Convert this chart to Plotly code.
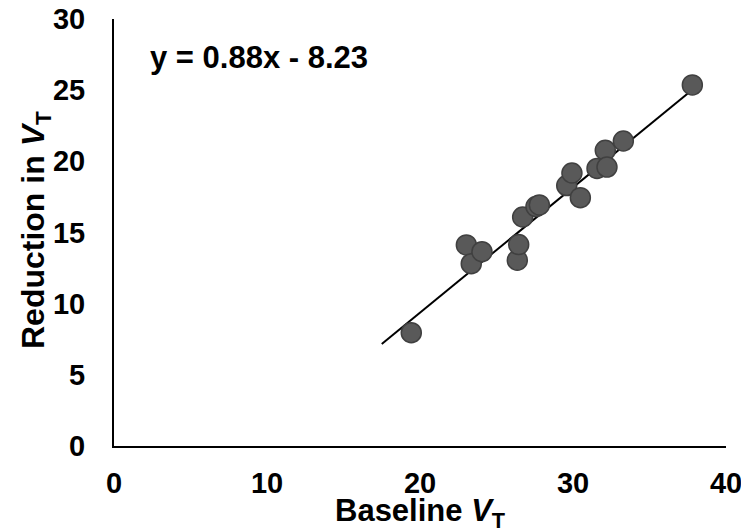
import plotly.graph_objects as go

baseline_vt = [19.43, 23.03, 23.35, 24.05, 26.36, 26.45, 26.71, 27.58, 27.80,
               29.59, 29.93, 30.48, 31.57, 32.11, 32.22, 33.29, 37.80]
reduction_vt = [7.96, 14.13, 12.81, 13.65, 13.05, 14.15, 16.09, 16.82, 16.94,
                18.30, 19.18, 17.45, 19.50, 20.78, 19.60, 21.43, 25.37]
slope = 0.88
intercept = -8.23
trend_x = [17.5, 37.8]
trend_y = [slope * v + intercept for v in trend_x]
x_ticks = [0, 10, 20, 30, 40]
y_ticks = [0, 5, 10, 15, 20, 25, 30]

FONT = "Liberation Sans, Arial, sans-serif"

fig = go.Figure()
fig.add_trace(go.Scatter(x=trend_x, y=trend_y, mode="lines",
                         line=dict(color="black", width=2), showlegend=False,
                         hoverinfo="skip"))
fig.add_trace(go.Scatter(x=baseline_vt, y=reduction_vt, mode="markers",
                         marker=dict(size=20, color="#595959",
                                     line=dict(color="#404040", width=1.5)),
                         showlegend=False))

fig.update_layout(
    width=741, height=528,
    margin=dict(l=114, r=15, t=19, b=82, autoexpand=False),
    paper_bgcolor="white", plot_bgcolor="white",
    font=dict(family=FONT, color="black"),
    annotations=[
        dict(x=2.2, y=27.3, xref="x", yref="y", xanchor="left",
             yanchor="middle", showarrow=False,
             text="<b>y = 0.88x - 8.23</b>",
             font=dict(size=31, family=FONT, color="black")),
        dict(x=0.5, y=-0.105, xref="paper", yref="paper", xanchor="center",
             yanchor="top", showarrow=False,
             text="<b>Baseline <i>V</i><sub>T</sub></b>",
             font=dict(size=31, family=FONT, color="black")),
        dict(x=-0.128, y=0.505, xref="paper", yref="paper", xanchor="center",
             yanchor="middle", showarrow=False, textangle=-90,
             text="<b>Reduction in <i>V</i><sub>T</sub></b>",
             font=dict(size=32, family=FONT, color="black")),
    ],
)
fig.update_xaxes(range=[0, 40], tickvals=x_ticks, showgrid=False, zeroline=False,
                 showline=True, linecolor="black", linewidth=2, ticks="",
                 automargin=False, ticklabeloverflow="allow",
                 ticklabelstandoff=10,
                 tickfont=dict(size=29, family=FONT, weight="bold"))
fig.update_yaxes(range=[0, 30], tickvals=y_ticks, showgrid=False, zeroline=False,
                 showline=True, linecolor="black", linewidth=2, ticks="",
                 automargin=False, ticklabeloverflow="allow",
                 ticklabelstandoff=21,
                 tickfont=dict(size=29, family=FONT, weight="bold"))

fig.write_html("out.html", config={"displayModeBar": False},
               post_script="document.body.style.margin='0';")
